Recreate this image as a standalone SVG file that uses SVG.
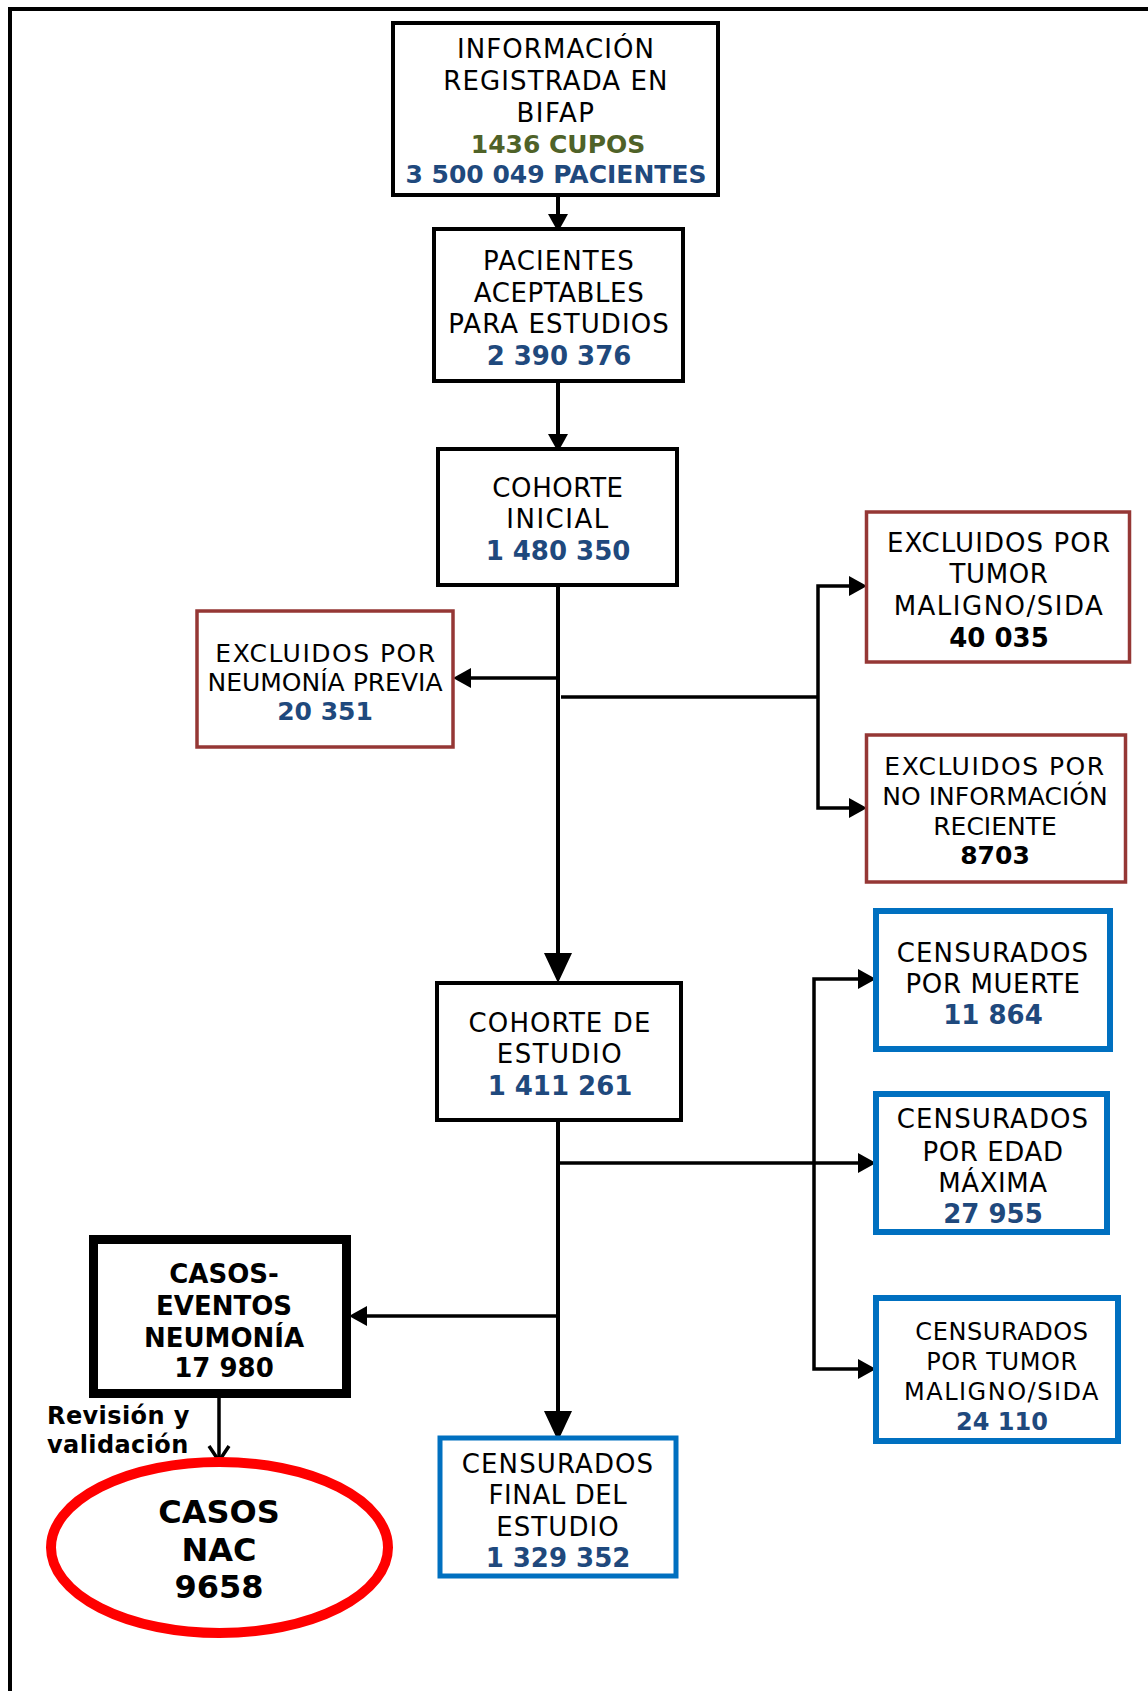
<svg xmlns="http://www.w3.org/2000/svg" width="1148" height="1691" viewBox="0 0 1148 1691">
  <style>
    text { font-family: "DejaVu Sans", Verdana, "Liberation Sans", sans-serif; text-anchor: middle; fill: #000; }
    .t26 { font-size: 26px; }
    .t25 { font-size: 25px; }
    .t24 { font-size: 24px; }
    .b { font-weight: bold; }
    .num { fill: #1F497D; font-weight: bold; }
    .grn { fill: #4F6228; font-weight: bold; }
    .ls05 { letter-spacing: 0.6px; }
    .ls1 { letter-spacing: 1.1px; }
    .ls2 { letter-spacing: 1.5px; }
    .box { fill: #fff; stroke: #000; stroke-width: 4; }
    .excl { fill: #fff; stroke: #953735; stroke-width: 3.5; }
    .cens { fill: #fff; stroke: #0070C0; stroke-width: 6; }
    .con { fill: none; stroke: #000; stroke-width: 3.5; stroke-linejoin: miter; }
    .main { stroke-width: 4; }
  </style>
  <defs>
    <marker id="arrow" markerUnits="userSpaceOnUse" viewBox="0 0 18 20" markerWidth="18" markerHeight="20" refX="10" refY="10" orient="auto">
      <path d="M0,0 L18,10 L0,20 z" fill="#000"/>
    </marker>
    <marker id="arrowBig" markerUnits="userSpaceOnUse" viewBox="0 0 30 28" markerWidth="30" markerHeight="28" refX="22" refY="14" orient="auto">
      <path d="M0,0 L30,14 L0,28 z" fill="#000"/>
    </marker>
    <marker id="arrowOpen" markerUnits="userSpaceOnUse" viewBox="-3 -3 21 26" markerWidth="21" markerHeight="26" refX="15" refY="10" orient="auto">
      <path d="M0,0 L15,10 L0,20" fill="none" stroke="#000" stroke-width="3.5"/>
    </marker>
  </defs>

  <rect width="1148" height="1691" fill="#fff"/>
  <!-- outer frame -->
  <rect x="10" y="9" width="1200" height="1800" fill="none" stroke="#000" stroke-width="4"/>

  <g id="connectors">
    <path class="con main" d="M558,197 V224" marker-end="url(#arrow)"/>
    <path class="con main" d="M558,383 V444" marker-end="url(#arrow)"/>
    <path class="con main" d="M558,587 V975" marker-end="url(#arrowBig)"/>
    <path class="con" d="M558,678 H461" marker-end="url(#arrow)"/>
    <path class="con" d="M561,697 H818"/>
    <path class="con" d="M818,697 V586 H859" marker-end="url(#arrow)"/>
    <path class="con" d="M818,697 V808 H859" marker-end="url(#arrow)"/>
    <path class="con main" d="M558,1122 V1433" marker-end="url(#arrowBig)"/>
    <path class="con" d="M558,1163 H868" marker-end="url(#arrow)"/>
    <path class="con" d="M814,1163 V979 H868" marker-end="url(#arrow)"/>
    <path class="con" d="M814,1163 V1369 H868" marker-end="url(#arrow)"/>
    <path class="con" d="M558,1316 H357" marker-end="url(#arrow)"/>
    <path class="con" d="M219,1398 V1461" marker-end="url(#arrowOpen)"/>
  </g>

  <g id="informacion-bifap">
    <rect class="box" x="393" y="23" width="325" height="172"/>
    <text class="t26 ls1" x="556" y="58">INFORMACIÓN</text>
    <text class="t26 ls1" x="556" y="90">REGISTRADA EN</text>
    <text class="t26 ls2" x="556" y="122">BIFAP</text>
    <text class="t25 grn" x="558" y="153">1436 CUPOS</text>
    <text class="t25 num" x="556" y="183">3 500 049 PACIENTES</text>
  </g>

  <g id="pacientes-aceptables">
    <rect class="box" x="434" y="229" width="249" height="152"/>
    <text class="t26 ls1" x="559" y="270">PACIENTES</text>
    <text class="t26 ls05" x="559" y="302">ACEPTABLES</text>
    <text class="t26 ls1" x="559" y="333">PARA ESTUDIOS</text>
    <text class="t26 num" x="559" y="365">2 390 376</text>
  </g>

  <g id="cohorte-inicial">
    <rect class="box" x="438" y="449" width="239" height="136"/>
    <text class="t26 ls05" x="558" y="497">COHORTE</text>
    <text class="t26 ls2" x="558" y="528">INICIAL</text>
    <text class="t26 num" x="558" y="560">1 480 350</text>
  </g>

  <g id="excluidos-neumonia">
    <rect class="excl" x="197" y="611" width="256" height="136"/>
    <text class="t25 ls2" x="326" y="662">EXCLUIDOS POR</text>
    <text class="t25" x="325" y="691">NEUMONÍA PREVIA</text>
    <text class="t25 num" x="325" y="720">20 351</text>
  </g>

  <g id="excluidos-tumor">
    <rect class="excl" x="866.5" y="512" width="263" height="150"/>
    <text class="t26 ls1" x="999" y="552">EXCLUIDOS POR</text>
    <text class="t26 ls05" x="999" y="583">TUMOR</text>
    <text class="t26 ls2" x="999" y="615">MALIGNO/SIDA</text>
    <text class="t26 b" x="999" y="647">40 035</text>
  </g>

  <g id="excluidos-no-informacion">
    <rect class="excl" x="866.5" y="735" width="259" height="147"/>
    <text class="t25 ls2" x="995" y="775">EXCLUIDOS POR</text>
    <text class="t25" x="995" y="805">NO INFORMACIÓN</text>
    <text class="t25" x="995" y="835">RECIENTE</text>
    <text class="t25 b" x="995" y="864">8703</text>
  </g>

  <g id="cohorte-estudio">
    <rect class="box" x="437" y="983" width="244" height="137"/>
    <text class="t26 ls1" x="560" y="1032">COHORTE DE</text>
    <text class="t26 ls2" x="560" y="1063">ESTUDIO</text>
    <text class="t26 num" x="560" y="1095">1 411 261</text>
  </g>

  <g id="censurados-muerte">
    <rect class="cens" x="876" y="911" width="234" height="138"/>
    <text class="t26 ls1" x="993" y="962">CENSURADOS</text>
    <text class="t26 ls05" x="993" y="993">POR MUERTE</text>
    <text class="t26 num" x="993" y="1024">11 864</text>
  </g>

  <g id="censurados-edad">
    <rect class="cens" x="876" y="1094" width="231" height="138"/>
    <text class="t26 ls1" x="993" y="1128">CENSURADOS</text>
    <text class="t26 ls05" x="993" y="1161">POR EDAD</text>
    <text class="t26 ls05" x="993" y="1192">MÁXIMA</text>
    <text class="t26 num" x="993" y="1223">27 955</text>
  </g>

  <g id="censurados-tumor">
    <rect class="cens" x="876" y="1298" width="242" height="143"/>
    <text class="t24 ls05" x="1002" y="1340">CENSURADOS</text>
    <text class="t24 ls05" x="1002" y="1370">POR TUMOR</text>
    <text class="t24 ls2" x="1002" y="1400">MALIGNO/SIDA</text>
    <text class="t24 num" x="1002" y="1430">24 110</text>
  </g>

  <g id="censurados-final">
    <rect class="cens" x="440" y="1438" width="236" height="138" style="stroke-width:5"/>
    <text class="t26 ls1" x="558" y="1473">CENSURADOS</text>
    <text class="t26 ls05" x="558" y="1504">FINAL DEL</text>
    <text class="t26 ls1" x="558" y="1536">ESTUDIO</text>
    <text class="t26 num" x="558" y="1567">1 329 352</text>
  </g>

  <g id="casos-eventos">
    <rect x="93.5" y="1239.5" width="253" height="154" fill="#fff" stroke="#000" stroke-width="9"/>
    <text class="t26 b" x="224" y="1283">CASOS-</text>
    <text class="t26 b" x="224" y="1315">EVENTOS</text>
    <text class="t26 b" x="224" y="1347">NEUMONÍA</text>
    <text class="t26 b" x="224" y="1377">17 980</text>
  </g>

  <g id="revision-label">
    <text class="t24 b" x="47" y="1424" style="text-anchor:start;letter-spacing:0.4px">Revisión y</text>
    <text class="t24 b" x="47" y="1453" style="text-anchor:start;letter-spacing:0.4px">validación</text>
  </g>

  <g id="casos-nac">
    <ellipse cx="219.5" cy="1547.5" rx="168.5" ry="85.5" fill="#fff" stroke="#FF0000" stroke-width="10"/>
    <text class="b" x="219" y="1523" style="font-size:32px">CASOS</text>
    <text class="b" x="219" y="1561" style="font-size:32px">NAC</text>
    <text class="b" x="219" y="1598" style="font-size:32px">9658</text>
  </g>
</svg>
